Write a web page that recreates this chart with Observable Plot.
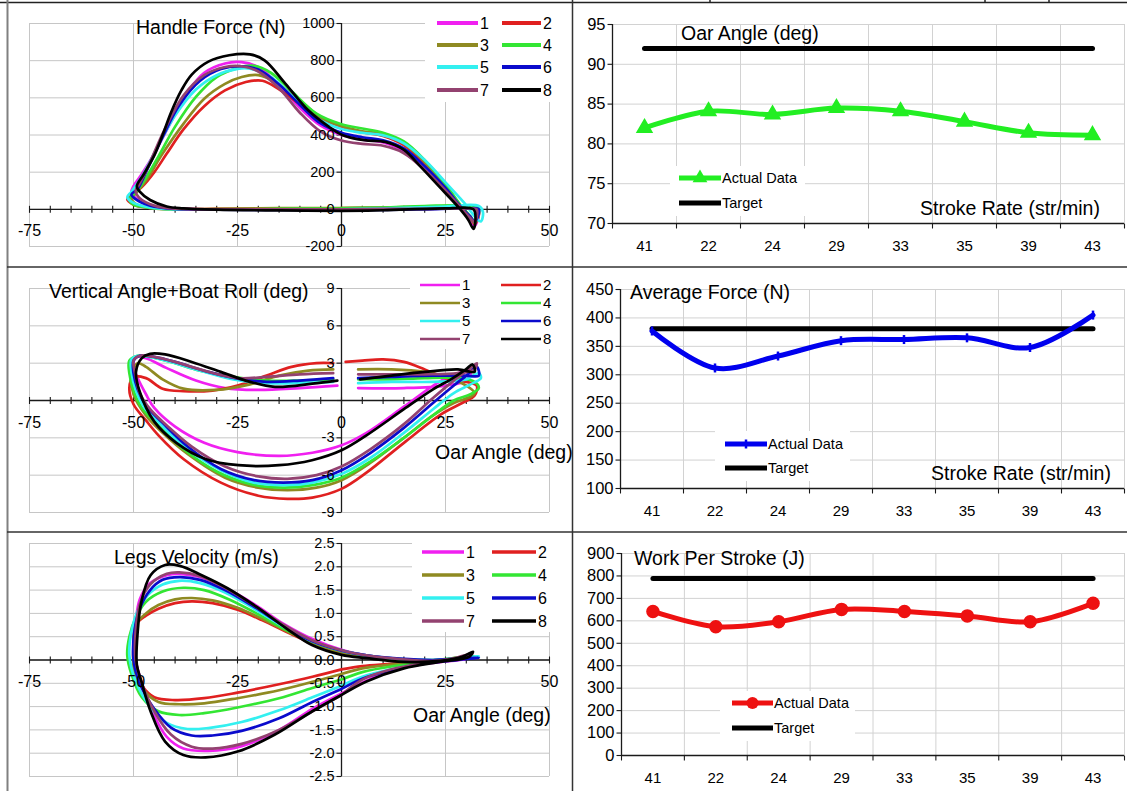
<!DOCTYPE html>
<html><head><meta charset="utf-8">
<script src="https://cdn.jsdelivr.net/npm/d3@7"></script>
<script src="https://cdn.jsdelivr.net/npm/@observablehq/plot@0.6"></script>
<style>
body{margin:0;background:#fff;}
#root{position:relative;width:1127px;height:791px;overflow:hidden;background:#fff;}
.panel{position:absolute;}
.panel svg{display:block;}
#overlay{position:absolute;left:0;top:0;pointer-events:none;}
</style></head><body><div id="root"></div>
<script>
// ---------------- data ----------------
const seriesNames = ["1","2","3","4","5","6","7","8"];
const seriesColors = ["#f020f0","#e02020","#8f8a22","#33e633","#33f0f0","#0a0acc","#934270","#000000"];
const oarTicks = [-75,-50,-25,0,25,50];
const forceTicks = [-200,0,200,400,600,800,1000];
const vertTicks = [-9,-6,-3,0,3,6,9];
const legsTicks = [-2.5,-2,-1.5,-1,-0.5,0,0.5,1,1.5,2,2.5];

// Handle force (N) vs oar angle (deg), one loop per stroke rate
const handleForce = [
 [[0,0],[-15,-2],[-30,0],[-38,2],[-44,10],[-48,40],[-50.5,90],[-50,125],[-48,190],[-45,300],[-41,470],[-37,630],[-33,735],[-28,785],[-24,792],[-20,765],[-15,670],[-10,545],[-5,450],[0,400],[5,375],[10,360],[15,312],[20,215],[25,95],[29,5],[31,-55],[32,-88],[33,-25],[32,3],[25,5],[15,3],[0,0]],
 [[0,5],[-15,4],[-30,2],[-40,2],[-46,8],[-50,25],[-51.5,55],[-50.5,75],[-48,120],[-45,200],[-42,300],[-38,430],[-33,555],[-28,640],[-23,685],[-19,692],[-15,645],[-10,565],[-5,490],[0,445],[5,415],[10,395],[15,345],[20,245],[25,115],[29,5],[31,-45],[32,-78],[33,-15],[31,10],[25,12],[15,8],[0,5]],
 [[0,8],[-15,6],[-30,2],[-40,0],[-46,8],[-49.5,30],[-50.5,60],[-49.5,85],[-47,155],[-43,300],[-38,460],[-33,595],[-28,675],[-24,712],[-20,722],[-16,685],[-10,585],[-5,495],[0,448],[5,420],[10,405],[15,355],[20,255],[25,125],[29,8],[31,-45],[32,-75],[33,-5],[30,15],[20,15],[10,10],[0,8]],
 [[0,5],[-15,2],[-30,-2],[-40,0],[-46,8],[-50,25],[-51,55],[-50,80],[-48,135],[-44,285],[-40,445],[-35,605],[-30,712],[-25,760],[-21,772],[-17,735],[-12,635],[-6,515],[0,458],[5,435],[10,412],[15,365],[20,265],[25,135],[29,12],[31,-38],[32,-65],[33,5],[30,20],[20,18],[10,10],[0,5]],
 [[0,0],[-15,-2],[-30,-2],[-40,0],[-46,10],[-50,35],[-51.5,65],[-50.5,95],[-48,175],[-44,345],[-40,505],[-35,645],[-30,722],[-25,756],[-22,757],[-17,712],[-12,612],[-6,492],[0,432],[5,412],[10,398],[15,355],[20,265],[25,145],[30,22],[32,-38],[33.5,-65],[34,-15],[33,18],[25,15],[15,8],[0,0]],
 [[0,-3],[-15,-3],[-30,-2],[-40,2],[-46,20],[-49.5,55],[-50.5,80],[-49,110],[-47,200],[-43,390],[-39,560],[-34,692],[-29,755],[-24,770],[-20,752],[-15,672],[-10,562],[-5,462],[0,412],[5,388],[10,372],[15,328],[20,232],[25,115],[29,5],[31,-40],[32,-68],[33,0],[30,5],[20,0],[10,-3],[0,-3]],
 [[0,0],[-15,0],[-30,0],[-40,3],[-45,20],[-48.5,60],[-49.5,100],[-48.5,140],[-46.5,230],[-42.5,430],[-38,612],[-33,722],[-28,766],[-24,770],[-20,742],[-15,652],[-10,520],[-5,418],[0,370],[5,352],[10,342],[15,302],[20,212],[25,102],[29,2],[31,-48],[32,-68],[32.5,0],[30,5],[20,3],[10,2],[0,0]],
 [[0,-8],[-15,-6],[-30,-2],[-38,5],[-42,15],[-46,50],[-48.5,95],[-49.2,125],[-47.5,190],[-45,290],[-43,400],[-41,520],[-38.5,640],[-36,725],[-32,795],[-27,829],[-22,834],[-18.5,802],[-13.5,677],[-8,533],[-3,444],[0.3,399],[5.5,372],[10.5,363],[15,320],[19,230],[23.5,122],[28,14],[30.5,-57],[31.7,-105],[32.2,-57],[31.7,0],[25,5],[10,-5],[0,-8]]
];

// Vertical angle + boat roll (deg) vs oar angle (deg)
const verticalAngle = [
 [[-1,1.2],[-10,1.0],[-20,0.85],[-28,1.0],[-35,1.6],[-42,2.6],[-47,3.4],[-49.5,3.5],[-50,2.8],[-49,1.8],[-47,0.5],[-45,-0.6],[-40,-2.1],[-33,-3.4],[-25,-4.15],[-15,-4.45],[-7,-4.2],[0,-3.6],[6,-2.6],[15,-0.5],[23,1.4],[28,2.2],[31,2.2],[30,1.6],[25,1.2],[15,1.0],[4,1.0]],
 [[-2,3.0],[-6,3.0],[-12,2.7],[-18,2.0],[-25,1.2],[-31,0.8],[-38,0.75],[-43,0.95],[-47,1.8],[-50,1.9],[-51,1.0],[-50,-0.3],[-47,-1.6],[-44,-2.8],[-38,-4.7],[-29,-6.6],[-20,-7.65],[-13,-7.9],[-7,-7.8],[0,-7.1],[6,-5.8],[15,-3.4],[24,-1.1],[29,-0.2],[32,0.4],[32.5,1.2],[30,1.5],[25,1.8],[20,2.5],[15,3.1],[10,3.3],[5,3.2],[1,3.1]],
 [[-2,2.5],[-8,2.4],[-15,2.0],[-22,1.3],[-30,0.85],[-38,0.95],[-43,1.7],[-47,2.7],[-49,3.0],[-50.5,2.0],[-50,0.5],[-47,-1.2],[-43,-2.6],[-37,-4.3],[-28,-6.2],[-20,-7.0],[-13,-7.2],[-6,-7.0],[0,-6.4],[7,-5.0],[15,-3.0],[22,-1.2],[27,-0.2],[31,0.3],[32,0.6],[30,1.2],[25,1.9],[20,2.3],[12,2.5],[4,2.5]],
 [[-2,1.7],[-10,1.6],[-18,1.6],[-26,1.9],[-34,2.4],[-41,3.1],[-46,3.5],[-49,3.6],[-51,3.2],[-51,2.2],[-50,0.8],[-48,-0.6],[-44,-2.0],[-38,-3.9],[-30,-5.7],[-22,-6.7],[-14,-7.0],[-7,-6.8],[0,-6.2],[7,-4.9],[15,-3.0],[22,-1.2],[27,0],[31,0.5],[33,1.0],[32,1.5],[28,1.8],[20,1.8],[12,1.7],[4,1.7]],
 [[-2,1.5],[-10,1.4],[-18,1.4],[-26,1.7],[-34,2.4],[-41,3.1],[-46,3.5],[-49,3.6],[-50.5,3.3],[-50.5,2.3],[-49.5,0.9],[-47.5,-0.5],[-43.5,-1.9],[-37.5,-3.8],[-29,-5.6],[-21,-6.6],[-14,-6.8],[-7,-6.6],[0,-5.9],[7,-4.6],[15,-2.6],[22,-0.7],[27,0.6],[31,1.3],[33.5,1.8],[33,2.2],[30,1.7],[22,1.5],[12,1.5],[4,1.4]],
 [[-2,1.8],[-10,1.6],[-18,1.5],[-24,1.7],[-32,2.3],[-40,3.1],[-45,3.5],[-48.5,3.6],[-50,3.2],[-50,2.2],[-49,0.9],[-47,-0.4],[-43,-1.8],[-37,-3.7],[-29,-5.5],[-21,-6.4],[-14,-6.6],[-7,-6.4],[0,-5.6],[7,-4.2],[15,-2.2],[22,-0.2],[27,1.2],[30,2.0],[32.5,2.7],[33,2.0],[30,2.0],[22,2.0],[12,1.9],[4,1.8]],
 [[-2,2.2],[-10,2.1],[-18,1.9],[-25,1.8],[-32,2.3],[-40,3.1],[-45,3.5],[-48.5,3.6],[-50,3.2],[-49.5,2.0],[-48.5,0.6],[-46,-0.7],[-42,-2.0],[-36,-3.7],[-28,-5.3],[-20,-6.1],[-13,-6.3],[-6,-6.0],[0,-5.3],[7,-3.9],[15,-1.9],[22,0.2],[27,1.6],[31,2.6],[32.5,3.0],[32,2.5],[28,2.2],[20,2.1],[12,2.1],[4,2.1]],
 [[-1,1.6],[-7,1.35],[-16,1.1],[-22,1.5],[-29,2.3],[-36,3.1],[-42.4,3.7],[-46,3.75],[-48,3.4],[-49.4,2.3],[-48.5,0.7],[-45,-1.7],[-39.7,-3.4],[-32.7,-4.7],[-24.8,-5.2],[-15,-5.2],[-7.1,-4.8],[0,-4.0],[6,-2.8],[15,-0.7],[22,0.9],[26.3,1.7],[29.9,2.5],[31.5,2.9],[32,2.3],[28,2.5],[20,2.3],[12,2.0],[4.5,1.7]]
];

// Legs velocity (m/s) vs oar angle (deg)
const legsVelocity = [
 [[0,-0.72],[-7,-1.05],[-15,-1.5],[-24,-1.85],[-32,-1.95],[-38,-1.9],[-42,-1.65],[-45.5,-1.1],[-48,-0.5],[-49.5,0],[-50,0.4],[-49.5,0.8],[-48.5,1.3],[-46,1.65],[-42,1.82],[-39,1.85],[-34,1.78],[-28,1.55],[-21,1.2],[-14,0.78],[-7,0.45],[0,0.22],[6,0.1],[15,0],[23,-0.02],[29,0.05],[31.5,0.1],[30,0.03],[23,-0.05],[15,-0.15],[7,-0.4],[0,-0.72]],
 [[0,-0.2],[-7,-0.36],[-15,-0.52],[-25,-0.7],[-33,-0.82],[-40,-0.86],[-45,-0.8],[-48,-0.55],[-49.8,-0.2],[-50,0.3],[-49.5,0.75],[-47,0.95],[-44,1.1],[-40,1.22],[-36,1.26],[-31,1.22],[-25,1.08],[-19,0.85],[-12,0.55],[-6,0.32],[0,0.15],[6,0.06],[14,0],[22,-0.02],[28,0.05],[31,0.1],[28,0.03],[20,-0.02],[12,-0.08],[5,-0.13],[0,-0.2]],
 [[0,-0.3],[-7,-0.47],[-15,-0.65],[-25,-0.82],[-33,-0.93],[-39,-0.95],[-44,-0.9],[-47.5,-0.65],[-49.8,-0.25],[-50,0.3],[-49.5,0.75],[-47,1.0],[-44,1.18],[-40,1.3],[-36,1.33],[-31,1.28],[-25,1.12],[-19,0.88],[-12,0.57],[-6,0.33],[0,0.16],[6,0.07],[14,0],[22,-0.02],[28,0.04],[31,0.08],[28,0.02],[20,-0.04],[12,-0.1],[5,-0.18],[0,-0.3]],
 [[0,-0.42],[-7,-0.6],[-15,-0.82],[-25,-1.02],[-33,-1.14],[-39,-1.18],[-44,-1.1],[-48,-0.8],[-50.5,-0.3],[-51.5,0.1],[-51,0.5],[-49.5,0.9],[-47,1.25],[-43,1.47],[-38,1.55],[-33,1.5],[-27,1.3],[-20,0.98],[-13,0.63],[-6,0.36],[0,0.2],[6,0.09],[14,0.02],[22,0],[28,0.05],[32,0.08],[28,0.02],[20,-0.06],[12,-0.14],[5,-0.26],[0,-0.42]],
 [[0,-0.55],[-7,-0.8],[-15,-1.08],[-24,-1.33],[-32,-1.46],[-37,-1.48],[-42,-1.35],[-46,-1.0],[-49.5,-0.45],[-51,0.1],[-50.5,0.6],[-49,1.05],[-46.5,1.4],[-43,1.62],[-39,1.7],[-34,1.65],[-28,1.45],[-21,1.1],[-14,0.72],[-7,0.4],[0,0.2],[6,0.1],[14,0.02],[22,0],[28,0.04],[33,0.08],[28,0.02],[20,-0.07],[12,-0.2],[5,-0.36],[0,-0.55]],
 [[0,-0.62],[-7,-0.9],[-15,-1.25],[-24,-1.52],[-31,-1.62],[-36,-1.62],[-41,-1.45],[-45,-1.05],[-48.5,-0.5],[-50,0],[-49.8,0.6],[-48.5,1.1],[-46,1.5],[-43,1.72],[-39,1.78],[-34,1.72],[-28,1.5],[-21,1.14],[-14,0.74],[-7,0.4],[0,0.2],[6,0.1],[14,0.03],[22,0],[28,0.03],[33,0.05],[28,0],[20,-0.08],[12,-0.22],[5,-0.4],[0,-0.62]],
 [[0,-0.75],[-7,-1.1],[-15,-1.5],[-24,-1.8],[-31,-1.9],[-36,-1.86],[-41,-1.6],[-45,-1.1],[-48,-0.5],[-49.5,0],[-49.5,0.6],[-48.5,1.2],[-46,1.62],[-42,1.85],[-39,1.88],[-34,1.8],[-28,1.55],[-21,1.17],[-14,0.76],[-7,0.42],[0,0.21],[6,0.1],[14,0.02],[22,-0.02],[28,0.06],[31.5,0.15],[28,0.04],[20,-0.06],[12,-0.2],[5,-0.42],[0,-0.75]],
 [[0,-0.75],[-7,-1.1],[-16,-1.6],[-24.8,-1.96],[-32.7,-2.09],[-38,-2.04],[-42.4,-1.75],[-45.9,-1.1],[-48.1,-0.46],[-49.2,-0.1],[-49,0.6],[-48.1,1.25],[-45.9,1.82],[-42.4,2.04],[-38.9,2.02],[-33.6,1.82],[-27.4,1.54],[-20.4,1.14],[-13.3,0.68],[-7.1,0.32],[0,0.11],[6,0.04],[15,-0.04],[23.7,-0.02],[29,0.07],[31.6,0.18],[30.7,0.07],[23.7,-0.04],[15,-0.18],[6,-0.46],[0,-0.75]]
];

// Right-hand charts
const strokeRates = ["41","22","24","29","33","35","39","43"];
const oarAngleActual = [82.0, 84.1, 83.7, 84.5, 84.1, 82.8, 81.4, 81.1];
const oarAngleTarget = 92;
const oarAngleTicks = [70,75,80,85,90,95];
const avgForceActual = [377, 312, 333, 360, 362, 365, 348, 405];
const avgForceTarget = 381;
const avgForceTicks = [100,150,200,250,300,350,400,450];
const workActual = [642, 574, 596, 651, 642, 622, 596, 678];
const workTarget = 789;
const workTicks = [0,100,200,300,400,500,600,700,800,900];

// ---------------- styling ----------------
const FONT = '"Liberation Sans", Arial, Helvetica, sans-serif';
const GRID = "#c6c6c6", GRID2 = "#d2d2d2", AXIS = "#1a1a1a";
const symVert = {draw(c, s){const r=Math.sqrt(s/Math.PI); c.moveTo(0,-r); c.lineTo(0,r);}};
const symDown = {draw(c, s){const r=Math.sqrt(s/Math.PI); c.moveTo(0,0); c.lineTo(0,r);}};
const symLeft = {draw(c, s){const r=Math.sqrt(s/Math.PI); c.moveTo(-r,0); c.lineTo(0,0);}};
const oarMinor = d3.range(-75, 50.01, 5);

const root = document.getElementById("root");
function place(node, left, top) {
  const d = document.createElement("div");
  d.className = "panel"; d.style.left = left + "px"; d.style.top = top + "px";
  d.appendChild(node); root.appendChild(d);
}

function loopPanel(cfg) {
  const rows = [];
  cfg.series.forEach((pts, k) => pts.forEach(([a, v]) => rows.push({s: seriesNames[k], a, v})));
  return Plot.plot({
    width: 564, height: cfg.height,
    marginLeft: 21, marginRight: 23, marginTop: cfg.mt, marginBottom: cfg.mb,
    x: {domain: [-75, 50], axis: null},
    y: {domain: cfg.yDomain, axis: null},
    color: {domain: seriesNames, range: seriesColors},
    style: {fontFamily: FONT, background: "transparent", overflow: "visible", color: "#000"},
    marks: [
      Plot.ruleY(cfg.yTicks, {stroke: GRID, strokeWidth: 1}),
      Plot.ruleX(oarTicks, {stroke: GRID, strokeWidth: 1}),
      Plot.ruleY([0], {stroke: AXIS, strokeWidth: 1.3}),
      Plot.ruleX([0], {stroke: AXIS, strokeWidth: 1.3}),
      Plot.dot(oarMinor, {x: d => d, y: 0, symbol: symVert, r: 3.5, stroke: AXIS, fill: "none", strokeWidth: 1.1}),
      Plot.dot(cfg.yTicks, {x: 0, y: d => d, symbol: symLeft, r: 5, stroke: AXIS, fill: "none", strokeWidth: 1.1}),
      Plot.line(rows, {x: "a", y: "v", z: "s", stroke: "s", strokeWidth: 2.7, curve: "catmull-rom", strokeLinejoin: "round"}),
      Plot.text(cfg.yLabels, {x: 0, y: d => d, dx: -7, textAnchor: "end", text: cfg.fmt, fontSize: 14.5, fill: "#000"}),
      Plot.text(oarTicks, {x: d => d, y: 0, dy: 22, text: d => String(d), fontSize: 16, fill: "#000"})
    ]
  });
}

function ratePanel(cfg) {
  const rows = strokeRates.map((r, i) => ({i, r, v: cfg.actual[i]}));
  const targetRows = strokeRates.map((r, i) => ({i, v: cfg.target}));
  const bounds = d3.range(0, strokeRates.length + 1).map(k => k - 0.5);
  const y0 = cfg.yDomain[0];
  return Plot.plot({
    width: 555, height: cfg.height,
    marginLeft: cfg.ml, marginRight: 3, marginTop: cfg.mt, marginBottom: cfg.mb,
    x: {domain: [-0.5, strokeRates.length - 0.5], axis: null},
    y: {domain: cfg.yDomain, axis: null},
    style: {fontFamily: FONT, background: "transparent", overflow: "visible", color: "#000"},
    marks: [
      Plot.ruleY(cfg.yTicks, {stroke: GRID2}),
      Plot.ruleX(bounds, {stroke: GRID2}),
      Plot.ruleY([y0], {stroke: AXIS, strokeWidth: 1.3}),
      Plot.ruleX([-0.5], {stroke: AXIS, strokeWidth: 1.3}),
      Plot.dot(bounds, {x: d => d, y: y0, symbol: symDown, r: 5, stroke: AXIS, fill: "none", strokeWidth: 1.1}),
      Plot.dot(cfg.yTicks, {x: -0.5, y: d => d, symbol: symLeft, r: 5, stroke: AXIS, fill: "none", strokeWidth: 1.1}),
      Plot.line(targetRows, {x: "i", y: "v", stroke: "#000", strokeWidth: 5}),
      Plot.line(rows, {x: "i", y: "v", stroke: cfg.color, strokeWidth: 5, curve: "catmull-rom"}),
      cfg.marker(rows),
      Plot.text(rows, {x: "i", y: y0, dy: 23, text: "r", fontSize: 15, fill: "#000"}),
      Plot.text(cfg.yTicks, {x: -0.5, y: d => d, dx: -7, textAnchor: "end", text: d => String(d), fontSize: 16.5, fill: "#000"})
    ]
  });
}

// left column
place(loopPanel({series: handleForce, height: 264, mt: 20, mb: 21, yDomain: [-200, 1000],
  yTicks: forceTicks, yLabels: forceTicks, fmt: d => String(d)}), 8, 3);
place(loopPanel({series: verticalAngle, height: 265, mt: 21, mb: 20, yDomain: [-9, 9],
  yTicks: vertTicks, yLabels: vertTicks.filter(d => d !== 0), fmt: d => String(d)}), 8, 267);
place(loopPanel({series: legsVelocity, height: 259, mt: 11, mb: 15, yDomain: [-2.5, 2.5],
  yTicks: legsTicks, yLabels: legsTicks, fmt: d => d.toFixed(1)}), 8, 532);

// right column
place(ratePanel({actual: oarAngleActual, target: oarAngleTarget, yDomain: [70, 95], yTicks: oarAngleTicks,
  height: 264, ml: 40, mt: 21, mb: 44, color: "#22ee22",
  marker: rows => Plot.dot(rows, {x: "i", y: "v", symbol: "triangle", r: 5.5, fill: "#22ee22", stroke: "#22ee22"})}), 572, 3);
place(ratePanel({actual: avgForceActual, target: avgForceTarget, yDomain: [100, 450], yTicks: avgForceTicks,
  height: 265, ml: 48, mt: 22, mb: 44, color: "#0000ee",
  marker: rows => Plot.dot(rows, {x: "i", y: "v", symbol: symVert, r: 4.5, fill: "none", stroke: "#0000ee", strokeWidth: 2.5})}), 572, 267);
place(ratePanel({actual: workActual, target: workTarget, yDomain: [0, 900], yTicks: workTicks,
  height: 259, ml: 49, mt: 21, mb: 36, color: "#ee1111",
  marker: rows => Plot.dot(rows, {x: "i", y: "v", r: 6, fill: "#ee1111", stroke: "#ee1111"})}), 572, 532);

// ---------------- overlay: table lines, legends, titles ----------------
const svg = d3.select(root).append("svg").attr("id", "overlay").attr("width", 1127).attr("height", 791)
  .style("font-family", FONT);
function hline(x1, x2, y, c, w) { svg.append("line").attr("x1", x1).attr("x2", x2).attr("y1", y).attr("y2", y).attr("stroke", c).attr("stroke-width", w); }
function vline(x, y1, y2, c, w) { svg.append("line").attr("x1", x).attr("x2", x).attr("y1", y1).attr("y2", y2).attr("stroke", c).attr("stroke-width", w); }
hline(0, 1127, 2.5, "#222", 1.5);
vline(710, 0, 3, "#222", 1.5); vline(985, 0, 3, "#222", 1.5); vline(1049, 0, 3, "#222", 1.5);
vline(7.5, 0, 791, "#808080", 2);
vline(572.5, 0, 791, "#333", 1.5);
hline(7, 1127, 267, "#333", 1.5);
hline(7, 1127, 532, "#333", 1.5);

function text(str, x, cy, fs, anchor) {
  svg.append("text").attr("x", x).attr("y", cy + 0.36 * fs).attr("font-size", fs)
    .attr("text-anchor", anchor || "start").attr("fill", "#000").text(str);
}
function rect(x, y, w, h) { svg.append("rect").attr("x", x).attr("y", y).attr("width", w).attr("height", h).attr("fill", "#fff"); }

// series legends (left column)
function seriesLegend(box, rowsY, c1, c2, lw, fs) {
  rect(...box);
  seriesNames.forEach((n, k) => {
    const col = k % 2 === 0 ? c1 : c2, y = rowsY[Math.floor(k / 2)];
    hline(col[0], col[1], y, seriesColors[k], lw);
    text(n, col[1] + 2, y, fs);
  });
}
seriesLegend([425, 6, 142, 96], [23, 45, 67, 90], [437, 478], [502, 541], 3.8, 16);
seriesLegend([410, 275, 158, 74], [285, 303, 321, 339], [420, 460], [501, 541], 2.6, 15);
seriesLegend([412, 540, 156, 92], [552, 575, 598, 621], [422, 464], [492, 536], 3.6, 16);

// actual/target legends (right column)
function rateLegend(box, y1, y2, xl, color, markerFn) {
  rect(...box);
  hline(xl[0], xl[1], y1, color, 5);
  markerFn((xl[0] + xl[1]) / 2, y1);
  text("Actual Data", xl[1] + 1, y1, 14.5);
  hline(xl[0], xl[1], y2, "#000", 5);
  text("Target", xl[1] + 1, y2, 14.5);
}
rateLegend([670, 166, 135, 50], 178, 203, [679, 721], "#22ee22", (x, y) =>
  svg.append("path").attr("d", d3.symbol(d3.symbolTriangle, Math.PI * 30)()).attr("transform", `translate(${x},${y})`).attr("fill", "#22ee22"));
rateLegend([715, 431, 135, 50], 444, 468, [725, 767], "#0000ee", (x, y) => vline(x, y - 4.5, y + 4.5, "#0000ee", 2.5));
rateLegend([720, 691, 135, 50], 703, 728, [732, 773], "#ee1111", (x, y) =>
  svg.append("circle").attr("cx", x).attr("cy", y).attr("r", 6).attr("fill", "#ee1111"));

// titles and axis captions
const TFS = 19.5;
text("Handle Force (N)", 136, 27, TFS);
text("Oar Angle (deg)", 681, 33, TFS);
text("Stroke Rate (str/min)", 920, 208, TFS);
text("Vertical Angle+Boat Roll (deg)", 49, 291, TFS);
text("Oar Angle (deg)", 435, 452, TFS);
text("Average Force (N)", 630, 292, TFS);
text("Stroke Rate (str/min)", 931, 473, TFS);
text("Legs Velocity (m/s)", 114, 557, TFS);
text("Oar Angle (deg)", 413, 715, TFS);
text("Work Per Stroke (J)", 634, 558, TFS);
</script></body></html>
